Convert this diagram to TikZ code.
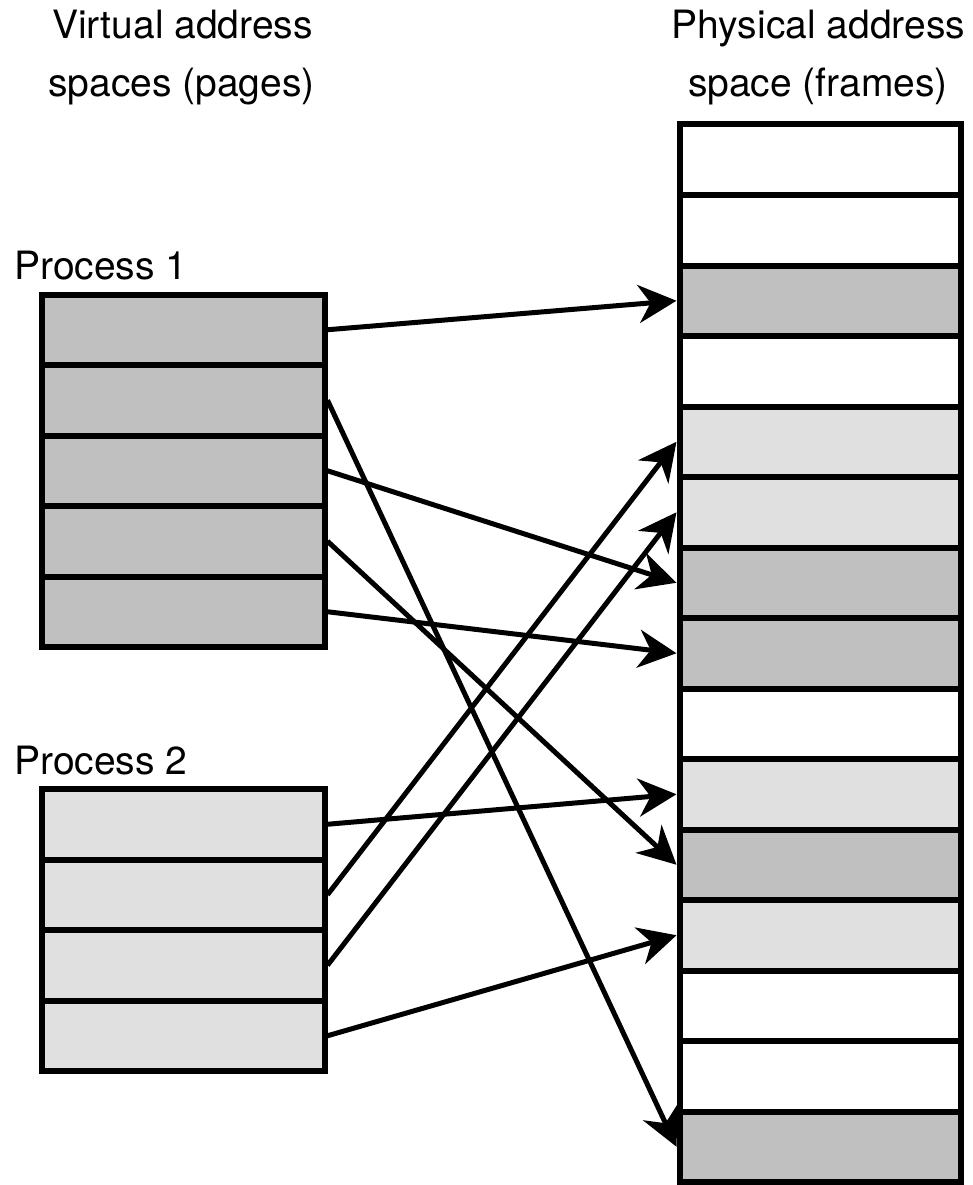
\documentclass[tikz,border=0pt]{standalone}
\usepackage{fontspec}
\setmainfont{TeX Gyre Heros}
\usetikzlibrary{arrows.meta}
\definecolor{pdark}{RGB}{192,192,192}
\definecolor{plight}{RGB}{224,224,224}
\definecolor{pwhite}{RGB}{255,255,255}
\tikzset{
  lbl/.style={inner sep=0pt, font=\fontsize{39}{47}\selectfont},
  frame/.style={draw, line width=6pt, minimum width=281pt, minimum height=70.5pt, inner sep=0pt},
  page/.style={draw, line width=6pt, minimum width=283pt, minimum height=70.5pt, inner sep=0pt},
  map/.style={line width=5pt, -{Stealth[length=38pt, width=38pt, inset=12pt]}}
}
\begin{document}
\begin{tikzpicture}[x=1pt, y=-1pt]
\useasboundingbox (0,0) rectangle (973,1185);
% titles
\node[lbl, anchor=base] (vt1) at (182.5,39) {Virtual address};
\node[lbl, anchor=base] (vt2) at (181.5,97) {spaces (pages)};
\node[lbl, anchor=base] (pt1) at (818.5,39) {Physical address};
\node[lbl, anchor=base] (pt2) at (818,97) {space (frames)};
\node[lbl, anchor=base west] (proc1) at (14,279) {Process 1};
\node[lbl, anchor=base west] (proc2) at (14,774) {Process 2};
% physical frames
\foreach \c [count=\i from 0] in {pwhite,pwhite,pdark,pwhite,plight,plight,pdark,pdark,pwhite,plight,pdark,plight,pwhite,pwhite,pdark}
  \node[frame, fill=\c] (f\i) at (820,{159.75+70.5*\i}) {};
% process 1 pages
\foreach \i in {0,...,4}
  \node[page, fill=pdark] (a\i) at (183,{329.75+70.5*\i}) {};
% process 2 pages
\foreach \i in {0,...,3}
  \node[page, fill=plight] (b\i) at (183,{824.25+70.5*\i}) {};
% mappings
\draw[map] (a0.east) -- (f2.west);
\draw[map] (a1.east) -- (f14.west);
\draw[map] (a2.east) -- (f6.west);
\draw[map] (a3.east) -- (f10.west);
\draw[map] (a4.east) -- (f7.west);
\draw[map] (b0.east) -- (f9.west);
\draw[map] (b1.east) -- (f4.west);
\draw[map] (b2.east) -- (f5.west);
\draw[map] (b3.east) -- (f11.west);
\end{tikzpicture}
\end{document}
